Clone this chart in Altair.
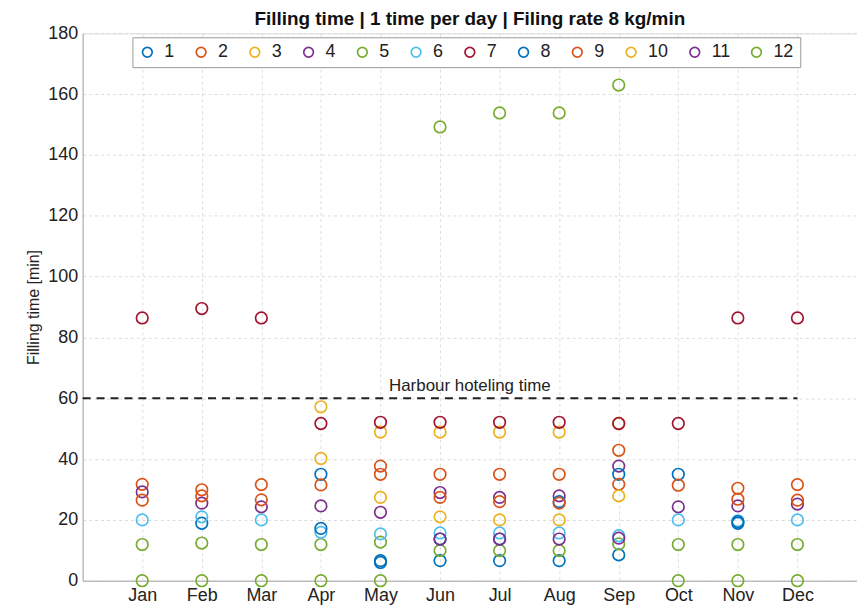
import altair as alt
import pandas as pd

months = ["Jan", "Feb", "Mar", "Apr", "May", "Jun", "Jul", "Aug", "Sep", "Oct", "Nov", "Dec"]
series_names = [str(i) for i in range(1, 13)]
colors = ["#0072BD", "#D95319", "#EDB120", "#7E2F8E", "#77AC30", "#4DBEEE",
          "#A2142F", "#0072BD", "#D95319", "#EDB120", "#7E2F8E", "#77AC30"]

s1 = [None, 18.9, None, 35.0, 6.6, 6.6, 6.6, 6.6, 8.5, 35.0, 18.9, None]
s2 = [31.7, 29.9, 31.6, 31.5, 37.7, 35.0, 35.0, 35.0, 42.9, 31.4, 30.4, 31.6]
s3 = [None, None, None, 57.2, 48.9, 48.9, 48.9, 48.9, 51.7, None, None, None]
s4 = [29.2, 25.5, 24.3, 24.6, 22.5, 29.0, 27.4, 27.9, 37.7, 24.3, 24.6, 25.2]
s5 = [11.9, 12.4, 11.9, 11.9, 12.7, 9.9, 9.9, 9.9, 12.1, 11.9, 11.9, 11.9]
s6 = [20.0, 21.0, 20.0, 15.9, 15.4, 15.7, 15.7, 15.7, 14.8, 20.0, 19.7, 20.0]
s7 = [86.4, 89.5, 86.4, 51.7, 52.1, 52.1, 52.1, 52.1, 51.7, 51.7, 86.4, 86.4]
s8 = [None, None, None, 17.2, 6.0, 13.7, 13.7, 26.0, 35.0, None, 19.4, None]
s9 = [26.5, 27.9, 26.6, None, 35.0, 27.4, 26.0, 25.5, 31.7, None, 26.8, 26.5]
s10 = [None, None, None, 40.2, 27.4, 21.0, 20.0, 20.0, 27.9, None, None, None]
s11 = [None, None, None, None, None, 13.7, 13.7, 13.7, 14.0, None, None, None]
s12 = [0.0, 0.0, 0.0, 0.0, 0.0, 149.2, 153.8, 153.8, 163.0, 0.0, 0.0, 0.0]

all_series = [s1, s2, s3, s4, s5, s6, s7, s8, s9, s10, s11, s12]

hotel_time = 60
hotel_label = "Harbour hoteling time"
hotel_x = [0, 12]

rows = []
for name, vals in zip(series_names, all_series):
    for m, v in enumerate(vals, start=1):
        if v is not None:
            rows.append({"month": m, "time": v, "series": name})
df = pd.DataFrame(rows)

label_expr = "[" + ",".join("'%s'" % m for m in months) + "][datum.value-1]"

FONT = "Liberation Sans"
x_scale = alt.Scale(domain=[0, 13], nice=False)
y_scale = alt.Scale(domain=[0, 180], nice=False)

points = alt.Chart(df).mark_point(filled=False, size=135, strokeWidth=1.7, opacity=1).encode(
    x=alt.X("month:Q", scale=x_scale,
            axis=alt.Axis(values=list(range(1, 13)), labelExpr=label_expr, title=None,
                          grid=True, gridDash=[3, 3], gridColor="#dddddd",
                          labelFontSize=18, labelColor="#222222", labelPadding=6,
                          ticks=False, domainColor="#aaaaaa", labelFont=FONT)),
    y=alt.Y("time:Q", scale=y_scale,
            axis=alt.Axis(values=list(range(0, 181, 20)), title="Filling time [min]",
                          grid=True, gridDash=[3, 3], gridColor="#dddddd",
                          labelFontSize=18, labelColor="#222222", labelPadding=5,
                          titleFontSize=16, titleFontWeight="normal", titleColor="#222222",
                          titlePadding=6, ticks=False, domainColor="#aaaaaa",
                          labelFont=FONT, titleFont=FONT)),
    color=alt.Color("series:N", sort=series_names,
                    scale=alt.Scale(domain=series_names, range=colors),
                    legend=alt.Legend(title=None, orient="none", legendX=50, legendY=4,
                                      direction="horizontal", columns=12,
                                      symbolType="circle", symbolSize=95,
                                      symbolStrokeWidth=1.7, labelFontSize=18,
                                      labelFont=FONT, labelColor="#222222",
                                      labelOffset=8, columnPadding=17,
                                      strokeColor="#999999", fillColor="white",
                                      padding=6)),
    order=alt.Order("series_idx:Q"),
).transform_calculate(series_idx="toNumber(datum.series)")

hline_df = pd.DataFrame({"x": [hotel_x[0]], "x2": [hotel_x[1]], "y": [hotel_time]})
hline = alt.Chart(hline_df).mark_rule(color="#222222", strokeWidth=2, strokeDash=[8, 6]).encode(
    x=alt.X("x:Q", scale=x_scale), x2="x2:Q", y=alt.Y("y:Q", scale=y_scale)
)

text_df = pd.DataFrame({"x": [6.5], "y": [hotel_time], "label": [hotel_label]})
htext = alt.Chart(text_df).mark_text(fontSize=17, font=FONT, color="#222222",
                                     baseline="bottom", dy=-3).encode(
    x=alt.X("x:Q", scale=x_scale), y=alt.Y("y:Q", scale=y_scale), text="label:N"
)

chart = alt.layer(hline, htext, points).properties(
    width=778, height=550,
    title=alt.TitleParams("Filling time | 1 time per day | Filing rate 8 kg/min",
                          fontSize=19, fontWeight="bold", font=FONT,
                          color="#111111", anchor="middle", offset=-5),
    autosize=alt.AutoSizeParams(type="none"),
    padding={"left": 75, "top": 24, "right": 0, "bottom": 31},
).configure_view(stroke="#aaaaaa", strokeWidth=1).configure(background="white")

chart.save("out.html", embed_options={"renderer": "svg", "actions": False})
